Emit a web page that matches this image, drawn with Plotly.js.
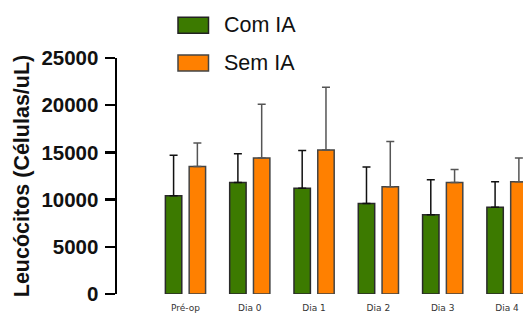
<!DOCTYPE html>
<html>
<head>
<meta charset="utf-8">
<script src="https://cdn.plot.ly/plotly-3.0.1.min.js"></script>
<style>html,body{margin:0;padding:0;background:#fff;}#chart{width:523px;height:327px;}</style>
</head>
<body>
<div id="chart"></div>
<script>
// ---- data ----
var categories = ["Pré-op", "Dia 0", "Dia 1", "Dia 2", "Dia 3", "Dia 4"];
var comIA = [10400, 11800, 11200, 9600, 8400, 9200];
var comIAsd = [4300, 3050, 4000, 3850, 3700, 2700];
var semIA = [13500, 14400, 15250, 11350, 11800, 11900];
var semIAsd = [2500, 5700, 6650, 4800, 1400, 2500];
var seriesNames = ["Com IA", "Sem IA"];
var yTicks = [0, 5000, 10000, 15000, 20000, 25000];

// ---- layout helpers ----
var W = 523, H = 327, L = 117, R = 0, T = 58, B = 33;
var pw = W - L - R, ph = H - T - B;
function px(x) { return (x - L) / pw; }
function py(y) { return (H - B - y) / ph; }

var green = "#3c7a00", orange = "#ff8000";
var boldFont = {family: "Liberation Sans, Arial, sans-serif", size: 20.5, color: "#111", weight: "bold"};

var traces = [
  {
    type: "bar", name: seriesNames[0], x: categories, y: comIA,
    marker: {color: green, line: {color: "#2a2a2a", width: 1.5}},
    error_y: {type: "data", array: comIAsd, arrayminus: comIA.map(function(){return 0;}), symmetric: false,
              color: "#111", thickness: 1.5, width: 4},
    showlegend: false
  },
  {
    type: "bar", name: seriesNames[1], x: categories, y: semIA,
    marker: {color: orange, line: {color: "#444", width: 1.5}},
    error_y: {type: "data", array: semIAsd, arrayminus: semIA.map(function(){return 0;}), symmetric: false,
              color: "#555", thickness: 1.5, width: 4},
    showlegend: false
  }
];

var layout = {
  width: W, height: H,
  margin: {l: L, r: R, t: T, b: B, pad: 0},
  paper_bgcolor: "#fff", plot_bgcolor: "#fff",
  barmode: "group", bargap: 0.26, bargroupgap: 0.31,
  showlegend: false,
  xaxis: {
    type: "category", range: [-1.065, 5.249],
    showline: false, showgrid: false, zeroline: false, ticks: "",
    tickfont: {family: "DejaVu Sans, Verdana, sans-serif", size: 9, color: "#333"},
    ticklabelstandoff: 7
  },
  yaxis: {
    range: [0, 25000], tickvals: yTicks, ticktext: yTicks.map(String),
    showline: true, linecolor: "#000", linewidth: 2.5,
    ticks: "outside", ticklen: 10, tickwidth: 2.5, tickcolor: "#000",
    showgrid: false, zeroline: false,
    tickfont: boldFont, ticklabelstandoff: 2,
    title: {text: "Leucócitos (Células/uL)", font: {family: "Liberation Sans, Arial, sans-serif", size: 21.5, color: "#111", weight: "bold"}, standoff: 6}
  },
  shapes: [
    {type: "rect", xref: "paper", yref: "paper", x0: px(178), x1: px(208.5), y0: py(33.3), y1: py(17.3),
     fillcolor: green, line: {color: "#222", width: 1.5}},
    {type: "rect", xref: "paper", yref: "paper", x0: px(178), x1: px(208.5), y0: py(71), y1: py(55),
     fillcolor: orange, line: {color: "#444", width: 1.5}}
  ],
  annotations: [
    {xref: "paper", yref: "paper", x: px(221.5), y: py(25), xanchor: "left", yanchor: "middle", showarrow: false,
     text: seriesNames[0], font: {family: "Liberation Sans, Arial, sans-serif", size: 21.5, color: "#111"}},
    {xref: "paper", yref: "paper", x: px(221.5), y: py(63), xanchor: "left", yanchor: "middle", showarrow: false,
     text: seriesNames[1], font: {family: "Liberation Sans, Arial, sans-serif", size: 21.5, color: "#111"}}
  ]
};

Plotly.newPlot("chart", traces, layout, {displayModeBar: false, staticPlot: true});
</script>
</body>
</html>
